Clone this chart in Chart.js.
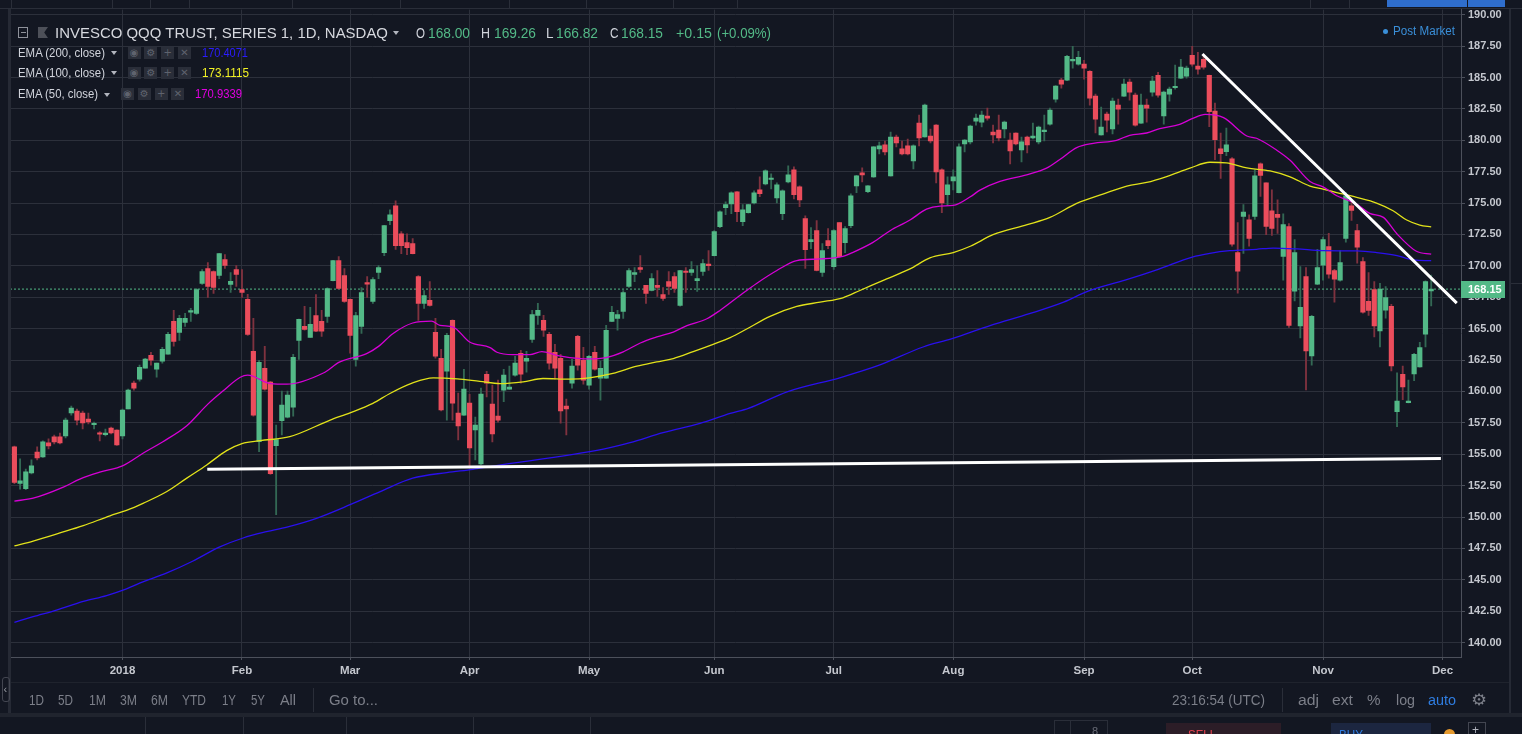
<!DOCTYPE html>
<html>
<head>
<meta charset="utf-8">
<script src="https://cdn.jsdelivr.net/npm/chart.js@4.4.1/dist/chart.umd.min.js"></script>
<style>
  html, body { margin: 0; padding: 0; width: 1522px; height: 734px; overflow: hidden; background: #131722;
               font-family: "Liberation Sans", Arial, sans-serif; }
  #wrap { position: absolute; left: 0; top: 0; width: 1510px; height: 686px; }
  #ov { position: absolute; left: 0; top: 0; width: 1522px; height: 734px; pointer-events: none; }
  .t { position: absolute; white-space: nowrap; line-height: 1; transform-origin: 0 50%; }
</style>
</head>
<body>
<div id="wrap"><canvas id="c"></canvas></div>
<div id="ov"></div>
<script>
// -----------------------------------------------------------------------
// Data, bar index 0 = first visible session (Dec 2017)
// -----------------------------------------------------------------------
const opens = [
  155.58,152.67,152.25,153.52,155.18,154.79,155.90,156.38,156.38,156.45,
  158.28,158.44,158.28,157.80,157.35,156.64,156.56,157.09,156.93,156.45,
  158.60,160.66,160.98,161.85,162.88,161.77,162.41,162.96,165.58,164.71,
  165.50,166.32,166.22,168.60,169.79,169.55,169.23,170.50,168.52,169.71,
  168.12,167.33,163.20,156.00,161.85,160.74,155.68,157.67,157.96,158.75,
  164.07,165.18,164.31,166.05,165.58,165.98,168.83,170.42,169.23,167.33,
  162.56,165.18,168.60,167.17,169.47,171.06,173.60,174.79,172.56,171.85,
  171.77,169.15,167.01,167.25,164.71,162.64,161.61,165.66,158.28,158.12,
  159.07,156.93,154.23,161.37,158.99,158.04,160.10,160.18,161.30,163.04,
  162.41,164.15,166.06,165.66,164.55,163.12,162.64,158.83,160.66,164.39,
  162.48,160.50,163.12,161.06,161.06,165.58,165.82,166.37,168.36,169.31,
  169.87,168.44,168.04,168.44,167.72,168.75,169.15,166.85,169.55,169.47,
  168.83,169.55,170.10,170.82,173.12,174.63,174.94,175.90,173.51,174.23,
  175.02,176.05,176.53,176.88,175.42,174.15,176.69,177.64,176.29,173.76,
  171.93,172.80,169.47,172.01,169.94,173.44,171.85,173.20,176.37,177.40,
  175.90,177.09,179.31,179.63,177.17,180.26,179.31,179.55,178.36,181.37,
  180.26,180.34,181.21,177.64,175.66,176.77,175.82,179.71,179.86,181.53,
  181.45,181.93,180.66,180.82,180.90,180.02,180.58,179.23,180.26,180.18,
  179.87,180.69,181.29,183.28,184.79,184.79,186.32,186.06,186.06,185.50,
  183.52,180.42,182.09,180.90,182.80,183.52,184.63,183.60,181.37,182.80,
  183.83,185.18,181.93,183.67,184.18,184.94,185.10,186.77,185.90,186.45,
  185.18,182.33,179.31,179.10,178.52,171.06,173.94,173.67,173.94,178.12,
  176.61,174.39,174.10,170.76,173.12,167.99,165.21,169.15,162.83,168.54,
  170.05,171.53,169.63,168.86,172.19,174.79,172.80,170.34,167.17,168.12,
  164.81,166.48,166.77,158.38,161.37,159.10,161.40,161.95,164.57,168.00
];
const highs = [
  155.65,154.63,153.81,154.55,155.58,156.06,156.22,156.53,156.69,157.88,
  158.84,158.60,158.44,158.28,157.57,156.80,157.01,157.17,156.95,158.60,
  160.18,160.82,162.09,162.64,163.12,162.25,163.52,164.71,166.45,166.06,
  166.22,166.61,168.20,169.71,170.26,169.60,171.00,170.90,169.47,170.03,
  169.71,167.73,165.82,162.48,163.60,160.80,157.33,160.03,160.03,162.96,
  165.76,166.77,166.69,167.72,166.45,168.25,170.45,170.74,169.79,167.35,
  166.29,168.28,169.15,169.07,170.02,173.22,174.47,175.18,172.72,172.56,
  172.17,169.23,168.04,168.75,165.82,163.36,164.63,165.70,159.87,161.77,
  159.78,157.96,160.26,161.61,160.50,160.90,161.77,162.01,162.80,163.28,
  163.20,166.45,167.01,166.06,164.71,163.75,162.96,159.39,162.56,164.47,
  163.52,162.88,163.60,162.41,165.26,166.77,166.45,168.04,169.79,169.87,
  170.82,168.45,169.39,169.63,168.28,169.55,169.47,169.65,169.87,170.34,
  170.02,170.50,171.22,172.80,174.39,175.10,175.90,175.92,174.87,174.90,
  175.98,177.09,177.64,177.32,176.61,176.06,177.96,177.88,176.37,173.99,
  173.04,173.60,171.77,172.96,172.88,173.45,173.12,175.74,177.20,177.80,
  176.40,179.50,179.86,179.94,180.66,180.42,179.94,180.10,179.63,182.01,
  182.88,180.90,181.25,177.72,177.09,177.64,179.71,180.05,181.21,182.09,
  182.33,182.56,181.21,182.01,181.53,180.58,180.60,180.26,180.34,181.37,
  181.13,182.01,182.56,184.35,184.94,186.77,187.48,187.09,186.37,185.55,
  183.68,182.64,182.25,183.36,183.28,184.87,184.87,183.75,183.68,183.28,
  185.10,185.42,183.91,184.23,185.98,186.45,185.90,187.48,187.01,186.85,
  185.20,182.96,180.58,180.98,178.62,173.44,174.87,174.07,177.64,178.20,
  176.62,176.06,175.26,174.15,173.36,172.09,169.94,169.87,166.06,171.32,
  172.30,172.59,169.73,171.21,175.84,175.26,173.30,170.66,169.47,168.75,
  168.60,168.36,166.93,161.48,162.01,160.90,163.04,163.91,168.80,169.26
];
const lows = [
  152.65,152.22,152.17,153.44,154.55,154.75,155.42,155.82,155.82,156.30,
  158.12,157.33,157.01,157.41,157.01,156.06,156.45,156.61,155.70,156.22,
  158.60,160.11,160.82,161.85,162.09,161.14,162.25,162.96,163.60,164.07,
  165.18,165.58,166.14,168.52,167.49,167.80,168.99,169.79,167.88,168.36,
  167.49,164.47,158.04,155.21,160.10,153.40,150.18,156.53,157.90,158.04,
  162.56,164.87,164.30,164.75,164.39,165.50,168.80,168.15,167.09,163.04,
  162.01,164.63,167.48,167.01,168.99,170.82,173.28,171.30,170.98,170.90,
  170.95,165.66,166.61,166.80,162.64,158.45,157.72,157.72,156.14,158.10,
  154.00,154.55,154.15,159.57,155.98,157.56,159.18,160.17,161.22,160.66,
  161.53,163.91,165.34,164.39,161.77,160.98,157.48,156.53,160.26,161.69,
  160.58,160.18,161.69,159.31,161.05,165.55,164.87,165.82,168.28,168.75,
  169.47,167.01,168.00,167.56,167.25,167.72,167.88,166.80,167.88,169.23,
  167.96,169.23,169.63,170.80,173.04,174.07,174.15,173.51,173.20,174.20,
  174.94,175.50,176.45,176.13,175.02,173.67,176.61,175.34,174.71,169.79,
  171.37,169.60,169.15,171.37,169.71,170.70,171.06,173.04,175.82,176.69,
  175.82,177.05,178.91,178.83,177.15,179.47,178.83,178.83,177.72,179.55,
  180.25,179.79,176.61,174.23,174.79,176.05,175.80,179.07,179.71,181.21,
  181.06,181.61,179.79,179.94,180.18,178.12,179.63,178.28,178.99,180.10,
  179.71,179.94,181.21,183.04,184.15,184.75,185.74,185.98,184.87,182.80,
  180.58,180.40,180.66,180.50,181.29,183.50,183.20,181.13,181.35,181.45,
  183.52,183.44,181.29,183.12,184.07,184.90,184.94,185.90,185.26,185.66,
  181.08,178.46,176.96,178.78,171.56,167.83,171.00,171.56,173.70,175.53,
  172.48,172.43,172.59,168.86,165.10,167.20,164.26,160.13,162.10,168.50,
  168.86,169.02,167.11,168.78,171.88,173.62,170.21,166.24,166.06,164.34,
  163.54,165.84,161.64,157.20,159.34,159.08,160.85,161.93,163.54,166.82
];
const closes = [
  152.75,152.88,153.60,154.07,154.71,155.98,155.66,155.98,155.90,157.72,
  158.68,157.72,157.49,157.57,157.41,156.59,156.61,156.69,155.74,158.52,
  160.11,160.26,161.93,162.57,162.49,162.25,163.36,164.55,163.99,165.82,
  165.82,166.38,168.12,169.55,168.36,168.28,170.98,170.03,168.76,169.31,
  167.88,164.55,158.12,162.32,160.18,153.46,156.16,158.91,159.71,162.72,
  165.74,164.94,165.34,164.79,164.79,168.20,170.42,168.20,167.17,164.47,
  166.05,167.88,168.54,168.91,169.87,173.20,174.07,171.61,171.61,171.45,
  170.98,167.01,167.64,166.85,162.80,158.52,164.47,159.07,157.25,160.18,
  155.50,157.33,159.79,160.66,156.61,157.72,161.30,160.34,162.25,161.37,
  162.64,166.13,166.45,164.87,162.25,161.85,158.44,158.60,162.01,162.09,
  160.90,162.80,161.77,161.85,164.87,166.29,166.13,167.88,169.63,169.47,
  169.71,167.80,168.99,168.28,167.41,168.36,168.20,169.63,169.47,169.71,
  168.99,170.18,170.02,172.72,174.31,174.87,175.82,174.31,174.47,174.87,
  175.82,175.74,177.56,176.93,176.45,175.98,177.25,175.66,175.26,171.29,
  172.09,169.63,171.21,171.61,172.80,170.74,172.96,175.58,177.17,177.25,
  176.37,179.47,179.55,179.07,180.26,179.79,178.91,178.91,179.55,180.18,
  182.80,179.94,177.48,175.02,176.45,177.09,179.47,180.02,181.13,181.77,
  182.01,181.77,180.42,180.18,181.45,179.15,179.71,179.87,179.63,180.34,
  181.06,180.74,182.40,184.31,184.47,186.69,186.37,186.61,185.74,183.36,
  181.69,181.06,181.61,183.12,182.48,184.47,183.83,181.21,182.80,182.56,
  184.71,183.60,183.83,184.07,184.23,185.82,185.74,186.06,185.66,185.82,
  182.27,180.05,178.94,179.63,171.72,169.57,174.28,172.19,177.17,177.20,
  173.15,172.99,173.86,173.28,165.26,171.06,166.69,163.23,165.98,169.87,
  172.09,169.34,168.94,170.26,175.58,174.42,171.48,166.32,166.45,165.21,
  168.15,167.48,162.03,159.23,160.37,159.23,162.96,163.50,168.75,168.15
];

// EMA curves: [bar index, value]
const ema50 = [
  [0,151.27],[3.3,151.5],[8.6,152.38],[11.5,153.02],[15,153.57],[19.1,154.1],[22.6,155.08],
  [26.1,156.0],[30.3,157.27],[34,158.99],[36.7,160.05],[39.7,161.13],[41,161.3],[45,160.63],
  [47.9,160.58],[54.3,161.47],[57.2,162.35],[61.9,163.01],[64,163.59],[66.5,164.6],[70,165.45],
  [73.3,165.6],[74.8,165.26],[77.1,165.13],[80,163.94],[83.6,163.49],[84.8,163.12],[87.6,162.93],
  [90.6,162.93],[92.7,163.17],[95.3,162.88],[97.6,162.7],[101,162.59],[104,162.7],[107,163.15],
  [110,163.86],[112.9,164.34],[115.8,164.73],[118.2,165.24],[121.7,165.79],[124,166.45],
  [127.5,167.64],[130.5,168.62],[134,169.63],[137.5,170.42],[141.6,170.55],[145.6,170.76],
  [147.4,171.08],[150.9,171.87],[153.9,172.8],[157.4,173.65],[160.3,174.52],[162.7,174.76],
  [165,174.81],[168,175.5],[169.7,176.03],[173.2,176.72],[177.9,177.25],[181.4,177.78],
  [183.8,178.49],[186.7,179.42],[189.6,179.76],[193.7,180.0],[196,180.4],[199,180.58],
  [201.3,180.93],[204.8,181.27],[207.1,181.74],[209.3,182.06],[212.5,181.8],[216.6,180.34],
  [218.3,180.16],[221.8,179.23],[224.2,178.41],[227.7,176.72],[230,176.29],[232.4,175.58],
  [235.9,174.92],[238.2,174.18],[240.6,173.86],[243,172.54],[246.4,171.16],[249,170.93]
];
const ema100 = [
  [0,147.7],[3.3,148.09],[8,148.73],[12.1,149.31],[16.8,150.1],[19.7,150.53],[22.7,151.11],
  [26.8,152.03],[30.3,153.1],[33.8,154.15],[37.3,155.29],[40,155.85],[43.2,156.08],[48.4,156.4],
  [55.5,157.72],[59,158.3],[63,159.05],[66,159.84],[70,160.68],[73.6,161.08],[77.8,161.0],
  [81.8,160.8],[85.4,160.63],[89.4,160.77],[92.9,161.03],[97.6,160.98],[101,161.08],
  [105.2,161.43],[109.4,162.01],[112.9,162.35],[115.8,162.62],[119.3,163.17],[122.8,163.75],
  [125.8,164.28],[128.7,164.97],[132.8,165.98],[137.5,166.77],[141.6,167.11],[145.6,167.46],
  [148.6,168.04],[152.6,168.83],[157.4,169.76],[160.9,170.63],[165,171.06],[168,171.56],
  [172,172.48],[178,173.28],[182,173.86],[186.7,174.97],[191.3,175.71],[195.5,176.35],
  [199,176.64],[202.5,177.11],[206.6,177.78],[210.1,178.25],[213,178.2],[216.6,177.8],
  [220.7,177.56],[224.2,177.09],[227.7,176.35],[230,176.11],[232.4,175.84],[235.9,175.45],
  [239.4,175.0],[242.3,174.39],[244.7,173.65],[247,173.25],[249,173.11]
];
const ema200 = [
  [0,141.61],[3.3,142.06],[7.4,142.59],[12.1,143.28],[16.2,143.75],[19.7,144.28],[22.7,144.86],
  [26.8,145.55],[31.4,146.5],[36.1,147.62],[40.2,148.33],[44.3,148.83],[47.9,149.2],[53.1,149.9],
  [59,150.98],[64.3,152.03],[70,153.09],[76,153.54],[80.6,153.8],[83.6,154.02],[103.5,155.4],
  [108.2,155.92],[114,156.72],[120.5,157.46],[125.8,158.25],[129,158.65],[135.8,159.97],
  [145.2,161.11],[152,162.09],[159.7,163.54],[164.8,164.2],[171.6,165.26],[178.4,166.19],
  [184.4,167.11],[188.7,167.99],[195.2,168.86],[200.9,169.7],[207,170.7],[210.1,171.0],
  [213.6,171.21],[218.3,171.32],[221.2,171.42],[225.4,171.35],[230,171.21],[236,171.19],
  [239.4,171.06],[243,170.82],[245.9,170.47],[249,170.41]
];

// hand-drawn trend lines: [bar index, price]
const supportLine = [[33.9,153.81],[250.7,154.66]];
const resistLine = [[208.8,186.87],[253.5,167.03]];

// axes
const monthIdx = [19,40,59,80,101,123,144,165,188,207,230,251];
const monthLbl = ["2018","Feb","Mar","Apr","May","Jun","Jul","Aug","Sep","Oct","Nov","Dec"];
const yTicks = [140,142.5,145,147.5,150,152.5,155,157.5,160,162.5,165,167.5,
                170,172.5,175,177.5,180,182.5,185,187.5,190];
const lastClose = 168.15;

// -----------------------------------------------------------------------
// Styling
// -----------------------------------------------------------------------
const UP = "#53b987", DOWN = "#eb4d5c", UP_WICK = "#336854", DOWN_WICK = "#7f323f";
const GRID = "#2c303b", AXIS = "#4c505b", LABEL = "#c4c7ce";
const FONT = "'Liberation Sans', Arial, sans-serif";
const X_MIN = -0.773, X_MAX = 254.24;

Chart.defaults.font.family = FONT;

const isUp = closes.map((c, i) => c >= opens[i]);
const pts = (a) => a.map((p) => ({ x: p[0], y: p[1] }));

const priceTag = {
  id: "priceTag",
  afterDraw(chart) {
    const { ctx, scales: { y } } = chart;
    const py = y.getPixelForValue(lastClose);
    ctx.save();
    ctx.fillStyle = UP;
    ctx.fillRect(y.left, Math.round(py) - 8, 44, 17);
    ctx.fillStyle = "#ffffff";
    ctx.font = "bold 11px " + FONT;
    ctx.textBaseline = "middle";
    ctx.fillText(lastClose.toFixed(2), y.left + 7, Math.round(py) + 0.5);
    ctx.restore();
  },
};

const lineDs = (data, color, width, order, extra) => Object.assign({
  type: "line", data: pts(data), borderColor: color, borderWidth: width,
  pointRadius: 0, order, cubicInterpolationMode: "monotone",
}, extra || {});

new Chart(document.getElementById("c"), {
  type: "bar",
  data: {
    datasets: [
      lineDs(resistLine, "#ffffff", 3, 0),
      lineDs(supportLine, "#ffffff", 3, 0),
      lineDs(ema50, "#d600d6", 1.3, 1),
      lineDs(ema100, "#e2e21a", 1.3, 1),
      lineDs(ema200, "#2a10ee", 1.3, 1),
      {
        type: "bar", order: 2, grouped: false,
        data: opens.map((o, i) => ({ x: i, y: [o, closes[i]] })),
        backgroundColor: isUp.map((u) => (u ? UP : DOWN)),
        barThickness: 4.5, minBarLength: 1.5,
      },
      {
        type: "bar", order: 3, grouped: false,
        data: lows.map((l, i) => ({ x: i, y: [l, highs[i]] })),
        backgroundColor: isUp.map((u) => (u ? UP_WICK : DOWN_WICK)),
        barThickness: 1.2,
      },
      lineDs([[X_MIN, lastClose], [X_MAX, lastClose]], UP, 1, 4, { borderDash: [2, 2] }),
    ],
  },
  options: {
    animation: false,
    responsive: true,
    maintainAspectRatio: false,
    layout: { padding: { left: 10, top: 9, right: 0, bottom: 0 } },
    plugins: { legend: { display: false }, tooltip: { enabled: false } },
    scales: {
      x: {
        type: "linear", min: X_MIN, max: X_MAX, offset: false,
        grid: { color: GRID, offset: false, tickLength: 3, tickColor: AXIS },
        border: { color: AXIS },
        afterBuildTicks: (axis) => { axis.ticks = monthIdx.map((v) => ({ value: v })); },
        afterFit: (axis) => { axis.height = 29; },
        ticks: {
          autoSkip: false, maxRotation: 0, padding: 4, color: LABEL,
          font: { size: 11.5, weight: "bold" },
          callback: (v) => monthLbl[monthIdx.indexOf(v)],
        },
      },
      y: {
        type: "linear", position: "right", min: 138.854, max: 190.406,
        grid: { color: GRID, tickLength: 4, tickColor: AXIS },
        border: { color: AXIS },
        afterBuildTicks: (axis) => { axis.ticks = yTicks.map((v) => ({ value: v })); },
        afterFit: (axis) => { axis.width = 49; },
        ticks: {
          padding: 3, color: LABEL, font: { size: 11, weight: "bold" },
          callback: (v) => v.toFixed(2),
        },
      },
    },
  },
  plugins: [priceTag],
});

// -----------------------------------------------------------------------
// Surrounding TradingView chrome (legend, toolbars) as plain HTML
// -----------------------------------------------------------------------
const ov = document.getElementById("ov");
function box(x, y, w, h, bg, extra) {
  const d = document.createElement("div");
  d.style.cssText = `position:absolute;left:${x}px;top:${y}px;width:${w}px;height:${h}px;background:${bg};${extra || ""}`;
  ov.appendChild(d);
  return d;
}
function txt(s, x, yc, size, color, w, weight) {
  const d = document.createElement("div");
  d.className = "t";
  d.textContent = s;
  d.style.left = x + "px";
  d.style.top = (yc - size * 0.5) + "px";
  d.style.fontSize = size + "px";
  d.style.color = color;
  if (weight) d.style.fontWeight = weight;
  if (w) d.dataset.w = w;
  ov.appendChild(d);
  return d;
}
function caret(x, y, color) {
  box(x, y, 0, 0, "transparent",
    `border-left:3px solid transparent;border-right:3px solid transparent;border-top:4px solid ${color};`);
}
function icons(x, y) {
  ["◉", "⚙", "+", "✕"].forEach((g, k) => {
    const b = box(x + k * 16.8, y, 13, 12, "#2a2e39",
      "color:#5f636e;font-size:10px;line-height:12px;text-align:center;font-family:'DejaVu Sans',sans-serif;");
    b.textContent = g;
  });
}

// top strip
box(0, 0, 1522, 8, "#131722");
box(0, 8, 1522, 1, "#2a2e39");
[11, 112, 150, 189, 292, 400, 509, 586, 673, 737, 1310, 1349].forEach((x) => box(x, 0, 1, 8, "#2a2e39"));
box(1387, 0, 80, 7, "#2f6ecd");
box(1468, 0, 37, 7, "#2f6ecd");

// left / right panel borders
box(8, 9, 3, 704, "#262a35");
box(1509, 9, 2, 704, "#262a35");
box(1511, 283, 11, 1, "#2a2e39");

// header line
box(18, 27, 10, 11, "transparent", "border:1px solid #8f929b;box-sizing:border-box;");
box(20.5, 32, 5, 1, "#8f929b");
box(38, 27, 10, 11, "#4d5059", "clip-path:polygon(0 0,100% 0,62% 50%,100% 100%,0 100%);");
txt("INVESCO QQQ TRUST, SERIES 1, 1D, NASDAQ", 55, 32.5, 15, "#d6d8de", 333);
caret(393, 31, "#b2b5be");
txt("O", 416, 32.5, 14, "#d1d4dc", 9);
txt("168.00", 428, 32.5, 14, UP, 42);
txt("H", 481, 32.5, 14, "#d1d4dc", 9);
txt("169.26", 494, 32.5, 14, UP, 42);
txt("L", 546, 32.5, 14, "#d1d4dc", 7.5);
txt("166.82", 556, 32.5, 14, UP, 42);
txt("C", 610, 32.5, 14, "#d1d4dc", 8.5);
txt("168.15", 621, 32.5, 14, UP, 42);
txt("+0.15", 676, 32.5, 14, UP, 36);
txt("(+0.09%)", 717, 32.5, 14, UP, 54);

// indicator legend
txt("EMA (200, close)", 18, 52.7, 12, "#d1d4dc", 87);
caret(110.5, 51, "#b2b5be");
icons(127.6, 47);
txt("170.4071", 202, 52.7, 12, "#2b1cff", 46);
txt("EMA (100, close)", 18, 72.7, 12, "#d1d4dc", 87);
caret(110.5, 71, "#b2b5be");
icons(127.6, 67);
txt("173.1115", 202, 72.7, 12, "#f2f224", 47);
txt("EMA (50, close)", 18, 94, 12, "#d1d4dc", 80);
caret(103.6, 92.5, "#b2b5be");
icons(121, 88);
txt("170.9339", 195, 94, 12, "#e000e0", 47);

// post market
box(1383, 28.5, 5, 5, "#3a8fd9", "border-radius:50%;");
txt("Post Market", 1393, 31, 12.5, "#3a8fd9", 62);

// bottom toolbar
box(11, 682, 1498, 1, "#1f232d");
const GREY = "#7c7f89";
[["1D", 29, 15], ["5D", 58, 15], ["1M", 89, 17], ["3M", 120, 17], ["6M", 151, 17],
 ["YTD", 182, 24], ["1Y", 222, 14], ["5Y", 251, 14], ["All", 280, 16], ["Go to...", 329, 49]]
  .forEach(([s, x, w]) => txt(s, x, 700, 14, GREY, w));
box(313, 688, 1, 24, "#2a2e39");
txt("23:16:54 (UTC)", 1172, 700, 14, GREY, 93);
box(1282, 688, 1, 24, "#2a2e39");
[["adj", 1298, 21], ["ext", 1332, 21], ["%", 1367, 13.5], ["log", 1396, 19]]
  .forEach(([s, x, w]) => txt(s, x, 700, 14, GREY, w));
txt("auto", 1428, 700, 14, "#2f7de1", 28);
txt("⚙", 1471, 700, 16, GREY, 16).style.fontFamily = "'DejaVu Sans', sans-serif";
box(2, 677, 8, 25, "transparent", "border:1px solid #434651;border-radius:3px;box-sizing:border-box;");
txt("‹", 3.5, 689, 11, "#9598a1");

// panel below the chart (cut off by the screenshot)
box(0, 713, 1522, 4, "#20242e");
[145, 243, 346, 473, 590].forEach((x) => box(x, 717, 1, 17, "#2a2e39"));
box(1054, 720, 54, 14, "transparent", "border:1px solid #2a2e39;border-bottom:none;box-sizing:border-box;");
box(1070, 720, 1, 14, "#2a2e39");
txt("8", 1092, 731, 11, "#6a6d78");
box(1166, 723, 115, 11, "#2c1d27");
txt("SELL", 1188, 734, 13, "#e5424f", 28);
box(1331, 723, 100, 11, "#1c2640");
txt("BUY", 1339, 734, 13, "#2f7de1", 24);
box(1444, 729, 11, 11, "#e69a2e", "border-radius:50%;");
box(1468, 722, 18, 12, "transparent", "border:1px solid #434651;border-bottom:none;box-sizing:border-box;");
txt("+", 1472, 730, 12, "#b2b5be");

// squeeze text tokens to the widths measured on the picture
document.querySelectorAll("[data-w]").forEach((el) => {
  const m = el.getBoundingClientRect().width;
  if (m > 0) el.style.transform = `scaleX(${el.dataset.w / m})`;
});
</script>
</body>
</html>
